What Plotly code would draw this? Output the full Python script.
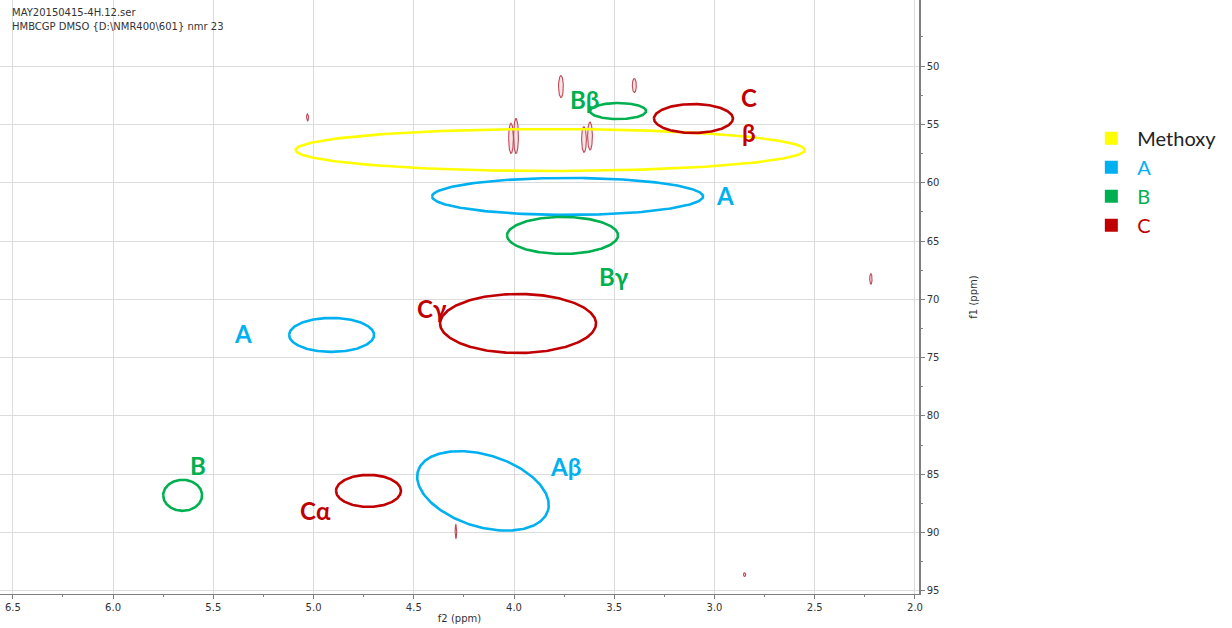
import numpy as np
import plotly.graph_objects as go

# ---------------- spectrum: small cross peaks (f2, f1 in ppm) ----------------
peak_f2 = [3.766, 3.40, 4.015, 3.99, 3.651, 3.621, 5.03, 2.22, 4.29, 2.85]
peak_f1 = [51.76, 51.67, 56.2, 56.0, 56.3, 56.0, 54.4, 68.25, 89.9, 93.6]
peak_hw = [0.012, 0.010, 0.012, 0.012, 0.012, 0.012, 0.005, 0.006, 0.004, 0.006]
peak_hh = [0.95, 0.6, 1.3, 1.5, 1.1, 1.2, 0.3, 0.45, 0.6, 0.15]

# ---------------- highlighted correlation regions ----------------
region_group = ["Methoxy", "A", "B", "C", "A", "B", "C", "B", "C", "A"]
region_f2 = [3.82, 3.733, 3.758, 3.98, 4.91, 3.481, 3.105, 5.653, 4.726, 4.155]
region_f1 = [57.2, 61.18, 64.52, 72.07, 73.05, 53.86, 54.5, 86.8, 86.42, 86.42]
# semi-axis vectors (f2, f1) of each region outline
region_a_f2 = [1.27, 0.676, 0.277, 0.389, 0.212, 0.14, 0.197, 0.097, 0.162, -0.324]
region_a_f1 = [0.0, 0.0, 0.0, 0.0, 0.0, 0.0, 0.0, 0.0, 0.0, 1.705]
region_b_f2 = [0.0, 0.0, 0.0, 0.0, 0.0, 0.0, 0.0, 0.0, 0.0, 0.0524]
region_b_f1 = [1.8, 1.585, 1.585, 2.53, 1.457, 0.69, 1.24, 1.33, 1.37, 2.95]

# ---------------- region labels ----------------
label_text = ["Bβ", "C", "β", "A", "Bγ", "Cγ", "A", "B", "Aβ", "Cα"]
label_group = ["B", "C", "C", "A", "B", "C", "A", "B", "A", "C"]
label_f2 = [3.65, 2.83, 2.83, 2.948, 3.50, 4.41, 5.35, 5.576, 3.745, 4.99]
label_f1 = [52.83, 52.74, 55.74, 61.14, 68.0, 70.8, 72.97, 84.28, 84.36, 88.13]

legend_names = ["Methoxy", "A", "B", "C"]
group_colors = {"Methoxy": "#FFFF00", "A": "#00B0F0", "B": "#00B050", "C": "#C00000"}
legend_text_colors = {"Methoxy": "#222222", "A": "#00B0F0", "B": "#00B050", "C": "#C00000"}

x_ticks = [6.5, 6.0, 5.5, 5.0, 4.5, 4.0, 3.5, 3.0, 2.5, 2.0]
y_ticks = [50, 55, 60, 65, 70, 75, 80, 85, 90, 95]

W, H = 1232, 628
fig = go.Figure()

t = np.linspace(0, 2 * np.pi, 241)

# cross peaks as thin contour outlines
for cx, cy, hw, hh in zip(peak_f2, peak_f1, peak_hw, peak_hh):
    fig.add_trace(go.Scatter(
        x=cx + hw * np.cos(t), y=cy + hh * np.sin(t),
        mode="lines", line=dict(color="#bf4a58", width=1.1),
        fill="toself", fillcolor="rgba(240,195,200,0.45)",
        hoverinfo="skip", showlegend=False))

# region outlines
for g, cx, cy, ax_, ay_, bx_, by_ in zip(region_group, region_f2, region_f1,
                                         region_a_f2, region_a_f1,
                                         region_b_f2, region_b_f1):
    fig.add_trace(go.Scatter(
        x=cx + ax_ * np.cos(t) + bx_ * np.sin(t),
        y=cy + ay_ * np.cos(t) + by_ * np.sin(t),
        mode="lines", line=dict(color=group_colors[g], width=2.6),
        hoverinfo="skip", showlegend=False))

# legend entries
for name in legend_names:
    fig.add_trace(go.Scatter(
        x=[None], y=[None], mode="markers",
        marker=dict(symbol="square", size=13, color=group_colors[name]),
        name=f'<span style="color:{legend_text_colors[name]}">{name}</span>'))

for txt, g, lx, ly in zip(label_text, label_group, label_f2, label_f1):
    fig.add_annotation(x=lx, y=ly, text=f"<b>{txt}</b>", showarrow=False,
                       font=dict(family="Lato, Open Sans, sans-serif", size=24,
                                 color=group_colors[g]),
                       xanchor="center", yanchor="middle")

# acquisition header
plot_w = 919
fig.add_annotation(xref="paper", yref="paper", x=10 / plot_w, y=1 - 12 / 594,
                   text="MAY20150415-4H.12.ser", showarrow=False,
                   xanchor="left", yanchor="middle",
                   font=dict(family="DejaVu Sans", size=10, color="#333333"))
fig.add_annotation(xref="paper", yref="paper", x=10 / plot_w, y=1 - 27 / 594,
                   text=r"HMBCGP DMSO {D:\NMR400\601} nmr 23", showarrow=False,
                   xanchor="left", yanchor="middle",
                   font=dict(family="DejaVu Sans", size=10, color="#333333"))

tick_font = dict(family="DejaVu Sans", size=10, color="#333333")
fig.update_layout(
    width=W, height=H,
    margin=dict(l=0, r=W - plot_w, t=0, b=34),
    paper_bgcolor="white", plot_bgcolor="white",
    showlegend=True,
    legend=dict(x=1.181, y=0.80, xanchor="left", yanchor="top", itemwidth=42,
                font=dict(family="Lato, Open Sans, sans-serif", size=20, color="#222222"),
                bgcolor="rgba(0,0,0,0)", itemclick=False, tracegroupgap=0),
    xaxis=dict(
        range=[6.564, 1.98], tickmode="array", tickvals=x_ticks,
        ticktext=[f"{v:.1f}" for v in x_ticks],
        showgrid=True, gridcolor="#dcdcdc", gridwidth=1, zeroline=False,
        showline=True, linecolor="#7f7f7f", linewidth=1,
        ticks="outside", ticklen=4, tickcolor="#7f7f7f", tickfont=tick_font,
        minor=dict(tickmode="array", tickvals=[6.25, 5.75, 5.25, 4.75, 4.25, 3.75, 3.25, 2.75, 2.25],
                   ticks="outside", ticklen=2, tickcolor="#7f7f7f", showgrid=False),
        title=dict(text="f2 (ppm)", standoff=2,
                   font=dict(family="DejaVu Sans", size=10, color="#333333")),
    ),
    yaxis=dict(
        range=[95.26, 44.34], side="right", tickmode="array", tickvals=y_ticks,
        showgrid=True, gridcolor="#dcdcdc", gridwidth=1, zeroline=False,
        showline=True, linecolor="#7f7f7f", linewidth=1.5,
        ticks="outside", ticklen=4, tickcolor="#7f7f7f", tickfont=tick_font,
        minor=dict(tickmode="array",
                   tickvals=[47.5, 52.5, 57.5, 62.5, 67.5, 72.5, 77.5, 82.5, 87.5, 92.5],
                   ticks="outside", ticklen=2, tickcolor="#7f7f7f", showgrid=False),
        title=dict(text="f1 (ppm)", standoff=32,
                   font=dict(family="DejaVu Sans", size=10, color="#333333")),
    ),
)

fig.write_html("out.html")
